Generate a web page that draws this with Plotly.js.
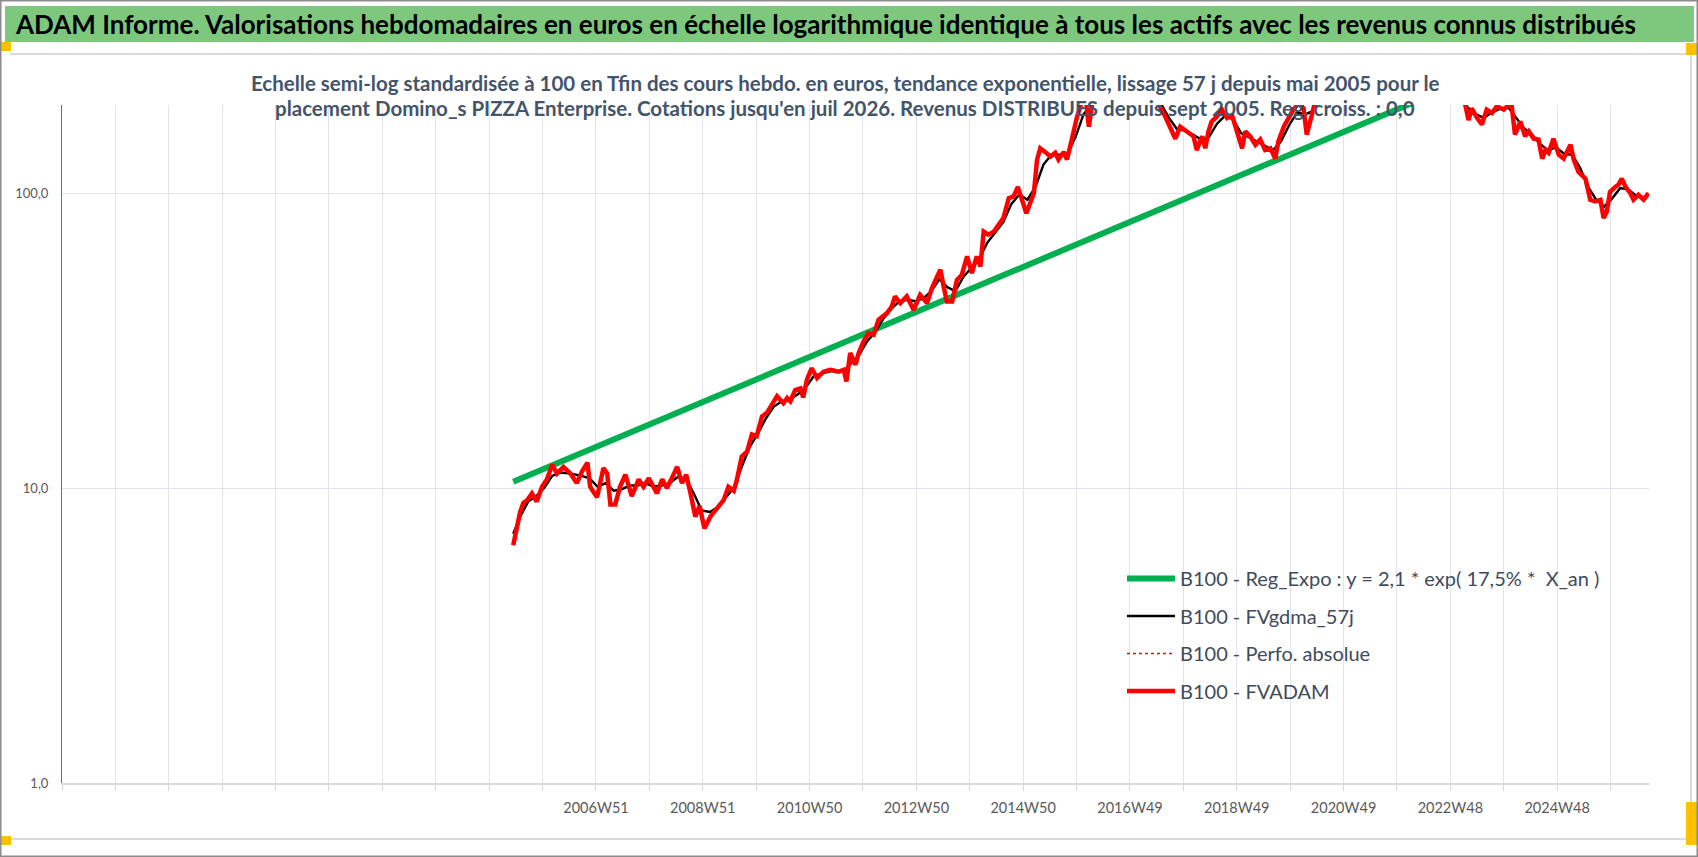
<!DOCTYPE html>
<html><head><meta charset="utf-8">
<script src="https://cdn.plot.ly/plotly-3.0.1.min.js"></script>
<style>html,body{margin:0;padding:0;background:#fff;overflow:hidden}#chart{width:1698px;height:857px}</style>
</head><body><div id="chart"></div>
<script>
// ---- data (x in years, gridline units) ----
const redYears = [2005.42,2005.49,2005.55,2005.61,2005.68,2005.77,2005.86,2005.96,2006.05,2006.15,2006.24,2006.36,2006.49,2006.61,2006.71,2006.81,2006.86,2006.99,2007.11,2007.18,2007.24,2007.33,2007.42,2007.52,2007.64,2007.77,2007.86,2007.96,2008.11,2008.21,2008.30,2008.39,2008.49,2008.58,2008.66,2008.74,2008.83,2008.91,2009.00,2009.11,2009.24,2009.36,2009.45,2009.55,2009.61,2009.70,2009.80,2009.89,2009.98,2010.08,2010.17,2010.27,2010.36,2010.48,2010.55,2010.61,2010.70,2010.80,2010.85,2010.92,2011.01,2011.11,2011.23,2011.36,2011.51,2011.61,2011.66,2011.73,2011.83,2011.89,2011.98,2012.07,2012.17,2012.26,2012.42,2012.51,2012.57,2012.67,2012.79,2012.92,2013.04,2013.17,2013.26,2013.36,2013.42,2013.48,2013.54,2013.64,2013.73,2013.82,2013.92,2014.01,2014.10,2014.17,2014.23,2014.32,2014.42,2014.51,2014.60,2014.70,2014.79,2014.87,2014.95,2015.03,2015.10,2015.17,2015.23,2015.29,2015.38,2015.48,2015.57,2015.63,2015.73,2015.79,2015.85,2015.91,2015.98,2016.04,2016.10,2016.15,2016.20,2016.26,2016.35,2016.50,2016.70,2016.90,2017.10,2017.30,2017.45,2017.51,2017.63,2017.72,2017.82,2017.91,2018.04,2018.16,2018.22,2018.32,2018.38,2018.44,2018.50,2018.60,2018.69,2018.79,2018.88,2018.97,2019.07,2019.13,2019.22,2019.32,2019.41,2019.50,2019.60,2019.69,2019.75,2019.85,2019.94,2020.03,2020.13,2020.22,2020.28,2020.35,2020.41,2020.50,2020.80,2021.20,2021.60,2021.90,2022.20,2022.60,2022.90,2023.15,2023.25,2023.31,2023.37,2023.47,2023.56,2023.65,2023.75,2023.84,2023.97,2024.06,2024.12,2024.18,2024.28,2024.37,2024.44,2024.53,2024.62,2024.69,2024.75,2024.81,2024.90,2025.00,2025.09,2025.22,2025.28,2025.37,2025.50,2025.59,2025.68,2025.78,2025.84,2025.90,2025.96,2026.06,2026.12,2026.18,2026.25,2026.34,2026.40,2026.49,2026.59,2026.68];
const redValues = [6.4,7.4,8.3,8.9,9.1,9.6,9.0,10.1,10.7,12.0,11.2,11.8,11.2,10.4,11.4,12.2,10.1,9.3,11.7,11.2,8.8,8.8,10.1,11.1,9.4,10.7,10.1,10.8,9.6,10.7,10.0,10.8,11.8,10.4,11.1,9.6,8.0,8.7,7.3,8.0,8.5,9.1,10.1,9.8,10.7,12.8,13.3,15.2,15.0,17.5,18.0,19.4,20.5,19.4,20.2,19.7,21.5,21.8,20.3,23.3,25.5,23.6,24.8,25.2,24.8,25.2,23.0,28.7,26.2,28.7,31.4,33.5,33.1,37.2,39.2,41.3,44.7,42.4,44.7,40.2,45.2,42.4,47.6,52.2,55.0,48.3,42.9,42.9,50.8,52.8,61.0,53.6,61.0,56.4,74.1,72.3,74.1,78.1,82.3,96.2,97.5,105,94.9,85.5,92.4,100,130,142,138,133,137,130,138,130,144,162,182,197,215,205,168,200,225,240,260,250,270,250,215,200,182,168,153,168,162,156,140,156,142,162,175,182,192,180,184,162,142,162,156,146,152,140,142,131,150,168,180,192,202,194,158,177,197,225,260,290,330,360,300,260,240,220,199,177,194,180,171,192,187,197,192,199,197,158,175,156,162,153,152,131,140,137,153,135,131,146,130,118,112,94.9,93.7,94.9,82.3,86.7,101,105,107,112,105,100,95,98.7,95,100];
const blackYears = [2005.42,2005.55,2005.70,2005.85,2006.00,2006.15,2006.30,2006.50,2006.70,2006.85,2007.00,2007.15,2007.30,2007.45,2007.60,2007.75,2007.90,2008.05,2008.20,2008.35,2008.50,2008.65,2008.80,2008.95,2009.10,2009.25,2009.40,2009.55,2009.70,2009.85,2010.00,2010.15,2010.30,2010.45,2010.60,2010.75,2010.90,2011.05,2011.20,2011.40,2011.60,2011.75,2011.90,2012.05,2012.20,2012.35,2012.50,2012.65,2012.80,2012.95,2013.10,2013.25,2013.40,2013.55,2013.70,2013.85,2014.00,2014.15,2014.30,2014.45,2014.60,2014.75,2014.90,2015.05,2015.20,2015.35,2015.50,2015.65,2015.80,2015.95,2016.10,2016.25,2016.40,2016.80,2017.10,2017.40,2017.55,2017.70,2017.85,2018.00,2018.15,2018.30,2018.45,2018.60,2018.75,2018.90,2019.05,2019.20,2019.35,2019.50,2019.65,2019.80,2019.95,2020.10,2020.25,2020.40,2020.55,2021.00,2021.60,2022.20,2022.80,2023.15,2023.30,2023.45,2023.60,2023.75,2023.90,2024.05,2024.20,2024.35,2024.50,2024.65,2024.80,2024.95,2025.10,2025.25,2025.40,2025.55,2025.70,2025.85,2026.00,2026.15,2026.30,2026.45,2026.60,2026.68];
const blackValues = [7.0,8.0,9.0,9.4,10.0,11.0,11.3,11.2,11.0,10.8,10.1,10.4,9.8,9.9,10.2,10.2,10.4,10.1,10.2,10.4,10.9,10.8,9.6,8.4,8.3,8.6,9.3,10.0,11.8,13.8,15.3,17.2,18.9,19.7,20.0,20.8,22.0,24.0,24.5,25.0,24.8,26.5,28.3,31.5,33.8,37.5,40.5,43.0,43.5,43.0,44.0,46.5,51.0,48.0,46.5,52.0,56.0,60.0,68.0,74.0,80.0,92.0,99.0,95.0,105,125,135,135,136,155,185,200,220,250,255,225,200,180,165,163,158,152,155,172,183,178,160,155,150,145,140,150,170,188,185,190,215,270,340,290,245,215,195,185,180,188,193,196,180,166,158,147,140,143,136,135,122,105,95,90,96,104,103,98,97,99];
const trendYears = [2005.42, 2026.68];
const trendValues = [10.5, 440];
const xTickLabels = ['2006W51','2008W51','2010W50','2012W50','2014W50','2016W49','2018W49','2020W49','2022W48','2024W48'];
const yTickValues = [1, 10, 100];
const yTickLabels = ['1,0','10,0','100,0'];
const seriesNames = ['B100 - Reg_Expo : y = 2,1 * exp( 17,5% *  X_an )','B100 - FVgdma_57j','B100 - Perfo. absolue','B100 - FVADAM'];
const titleText = 'ADAM Informe. Valorisations hebdomadaires en euros en échelle logarithmique identique à tous les actifs avec les revenus connus distribués';
const subtitleLines = ["Echelle semi-log standardisée à 100 en Tfin des cours hebdo. en euros, tendance exponentielle, lissage 57 j depuis mai 2005 pour le",
  "placement Domino_s PIZZA Enterprise. Cotations jusqu'en juil 2026. Revenus DISTRIBUES depuis sept 2005. Reg. croiss. : 0,0"];

// ---- axis layout ----
const X0 = 1996.97, X1 = 2026.69;
const tickVals = [], tickText = [];
for (let k = 0; k <= 29; k++) {
  tickVals.push(X0 + k);
  const li = (k - 10) / 2;
  tickText.push(k >= 10 && k % 2 === 0 && li < xTickLabels.length ? xTickLabels[li] : '');
}

const W = 1698, H = 857, ML = 62, MR = 49, MT = 105, MB = 74;
const PW = W - ML - MR, PH = H - MT - MB;
const px = v => (v - ML) / PW;
const py = v => (H - MB - v) / PH;
const FONT = 'Lato, "Open Sans", sans-serif';

const traces = [
  {x: trendYears, y: trendValues, name: seriesNames[0], mode: 'lines', line: {color: '#00B050', width: 6}, legendgroup: 'a'},
  {x: blackYears, y: blackValues, name: seriesNames[1], mode: 'lines', line: {color: '#000000', width: 2.4}, legendgroup: 'b'},
  {x: redYears, y: redValues, name: seriesNames[2], mode: 'lines', line: {color: '#FF0000', width: 1.5, dash: 'dot'}, legendgroup: 'c'},
  {x: redYears, y: redValues, name: seriesNames[3], mode: 'lines', line: {color: '#FF0000', width: 4.5}, legendgroup: 'd'}
];

const shapes = [
  {type: 'rect', xref: 'paper', yref: 'paper', x0: px(5), x1: px(1694), y0: py(6), y1: py(42), fillcolor: '#7DC87D', line: {width: 0}},
  {type: 'line', xref: 'paper', yref: 'paper', x0: px(10), x1: px(1690), y0: py(54), y1: py(54), line: {color: '#DADADA', width: 2}},
  {type: 'line', xref: 'paper', yref: 'paper', x0: px(10), x1: px(1690), y0: py(839), y1: py(839), line: {color: '#DADADA', width: 2}},
  {type: 'line', xref: 'paper', yref: 'paper', x0: px(1691), x1: px(1691), y0: py(54), y1: py(839), line: {color: '#DADADA', width: 2}},
  {type: 'rect', xref: 'paper', yref: 'paper', x0: px(0), x1: px(11), y0: py(42), y1: py(51), fillcolor: '#FFC000', line: {width: 0}},
  {type: 'rect', xref: 'paper', yref: 'paper', x0: px(0), x1: px(11), y0: py(836), y1: py(845), fillcolor: '#FFC000', line: {width: 0}},
  {type: 'rect', xref: 'paper', yref: 'paper', x0: px(1686), x1: px(1698), y0: py(43), y1: py(55), fillcolor: '#FFC000', line: {width: 0}},
  {type: 'rect', xref: 'paper', yref: 'paper', x0: px(1686), x1: px(1698), y0: py(802), y1: py(845), fillcolor: '#FFC000', line: {width: 0}},
  {type: 'rect', xref: 'paper', yref: 'paper', x0: px(0.5), x1: px(1697.5), y0: py(0.5), y1: py(856.5), line: {color: '#8C8C8C', width: 2}}
];

const annotations = [
  {xref: 'paper', yref: 'paper', x: px(13), y: py(24), xanchor: 'left', yanchor: 'middle', showarrow: false, text: titleText, font: {family: FONT, size: 26, color: '#000', weight: 'bold'}},
  {xref: 'paper', yref: 'paper', x: px(845), y: py(83), xanchor: 'center', yanchor: 'middle', showarrow: false, text: subtitleLines[0], font: {family: FONT, size: 20.5, color: '#44546A', weight: 'bold'}},
  {xref: 'paper', yref: 'paper', x: px(845), y: py(108), xanchor: 'center', yanchor: 'middle', showarrow: false, text: subtitleLines[1], font: {family: FONT, size: 20.5, color: '#44546A', weight: 'bold'}}
];

const layout = {
  width: W, height: H,
  margin: {l: ML, r: MR, t: MT, b: MB, pad: 0},
  paper_bgcolor: '#FFFFFF', plot_bgcolor: '#FFFFFF',
  font: {family: FONT},
  showlegend: true,
  legend: {x: px(1122), y: py(559), xanchor: 'left', yanchor: 'top', bgcolor: 'rgba(0,0,0,0)', font: {family: FONT, size: 20, color: '#3F4B5B'}, tracegroupgap: 8.5, traceorder: 'grouped', itemwidth: 48},
  xaxis: {range: [X0, X1], tickmode: 'array', tickvals: tickVals, ticktext: tickText, showgrid: true, gridcolor: '#E1E4EA', gridwidth: 1,
          ticks: 'outside', ticklen: 6, tickcolor: '#D9D9D9', showline: true, linecolor: '#D9D9D9', linewidth: 1.5, zeroline: false,
          tickfont: {family: FONT, size: 14.5, color: '#595959'}, ticklabelstandoff: 5, fixedrange: true},
  yaxis: {type: 'log', range: [0, 2.299], tickmode: 'array', tickvals: yTickValues, ticktext: yTickLabels, showgrid: true, gridcolor: '#E1E4EA', gridwidth: 1,
          showline: true, linecolor: '#4472C4', linewidth: 1, ticks: '', zeroline: false,
          tickfont: {family: FONT, size: 13, color: '#595959'}, ticklabelstandoff: 10, fixedrange: true},
  shapes: shapes,
  annotations: annotations
};

Plotly.newPlot('chart', traces, layout, {displayModeBar: false, staticPlot: true});
</script></body></html>
